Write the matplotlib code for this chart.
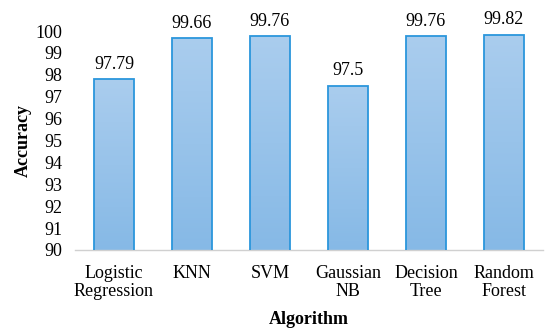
import numpy as np
import matplotlib
matplotlib.use("Agg")
import matplotlib.pyplot as plt
from matplotlib.colors import LinearSegmentedColormap

algorithms = ["Logistic\nRegression", "KNN", "SVM", "Gaussian\nNB", "Decision\nTree", "Random\nForest"]
accuracy = [97.79, 99.66, 99.76, 97.5, 99.76, 99.82]
yticks = list(range(90, 101))

plt.rcParams["font.family"] = ["Liberation Serif", "DejaVu Serif"]
plt.rcParams["font.size"] = 13

fig = plt.figure(figsize=(5.5, 3.32), dpi=100)
ax = fig.add_axes([75 / 550, 82 / 332, 468 / 550, 219 / 332])

x = np.arange(len(algorithms))
bars = ax.bar(x, accuracy, width=0.51, color="none", edgecolor="#2b96dc", linewidth=1.3, zorder=3)

# vertical gradient inside each bar
cmap = LinearSegmentedColormap.from_list("grad", ["#86b9e6", "#aacdee"])
grad = np.linspace(0, 1, 256).reshape(-1, 1)
for b in bars:
    x0, w, h = b.get_x(), b.get_width(), b.get_height()
    im = ax.imshow(grad, cmap=cmap, aspect="auto", origin="lower",
                   extent=[x0, x0 + w, 90, h], zorder=2)
    im.set_clip_path(b)

for xi, v in zip(x, accuracy):
    ax.text(xi, v + 0.3, f"{v:g}", ha="center", va="bottom", fontsize=13)

ax.set_xlim(-0.5, len(algorithms) - 0.5)
ax.set_ylim(90, 100)
ax.set_yticks(yticks)
ax.set_xticks(x)
ax.set_xticklabels(algorithms, linespacing=1.05)
ax.tick_params(axis="x", length=0, pad=11)
ax.tick_params(axis="y", length=0, pad=9)

for s in ["top", "right", "left"]:
    ax.spines[s].set_visible(False)
ax.spines["bottom"].set_color("#d0d0d0")
ax.spines["bottom"].set_linewidth(1.0)

ax.set_xlabel("Algorithm", fontweight="bold", fontsize=13, labelpad=8)
ax.set_ylabel("Accuracy", fontweight="bold", fontsize=13, labelpad=3)

fig.savefig("out.png", dpi=100)
